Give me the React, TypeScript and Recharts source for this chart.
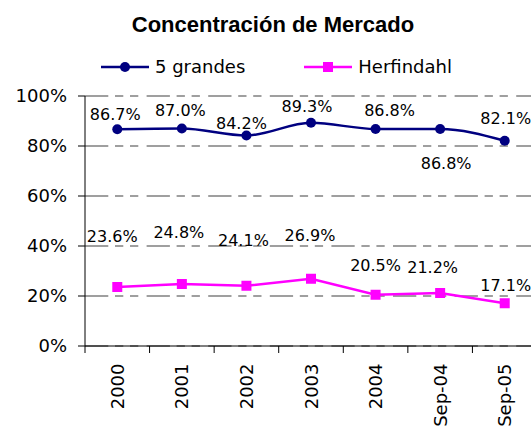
import { CartesianGrid, LabelList, Legend, Line, LineChart, XAxis, YAxis } from "recharts";

// values (percent)
const periods = ["2000", "2001", "2002", "2003", "2004", "Sep-04", "Sep-05"];
const cincoGrandes = [86.7, 87.0, 84.2, 89.3, 86.8, 86.8, 82.1];
const herfindahl = [23.6, 24.8, 24.1, 26.9, 20.5, 21.2, 17.1];
const yTicks = [0, 20, 40, 60, 80, 100];

const data = periods.map((periodo, i) => ({
  periodo,
  grandes: cincoGrandes[i],
  herf: herfindahl[i],
}));

// hand-placed data labels, as in the original sheet (dx, dy from the point)
const grandesLabelShift = [[-2, -15], [-1.5, -18], [-5, -12], [-4, -16], [14, -19], [6, 34], [1, -22.5]];
const herfLabelShift = [[-5, -51], [-3, -51.4], [-3, -45.5], [-1, -43.5], [0, -29.5], [-7.5, -26], [1, -18]];

const NAVY = "#000080";
const MAGENTA = "#FF00FF";
const FONT = "DejaVu Sans, Verdana, sans-serif";

const makeLabel = (shift: number[][]) => (props: any) => {
  const { x, y, index, value } = props;
  const [dx, dy] = shift[index] ?? [0, -15];
  return (
    <text
      x={x + dx}
      y={y + dy}
      textAnchor="middle"
      dominantBaseline="central"
      fontSize={16}
      fontFamily={FONT}
      fill="#000"
    >
      {`${Number(value).toFixed(1)}%`}
    </text>
  );
};

const SquareDot = (props: any) => {
  const { cx, cy, index } = props;
  return <rect key={`sq-${index}`} x={cx - 5} y={cy - 5} width={10} height={10} fill={MAGENTA} />;
};

// category label plus a tick mark on the left edge of its band (Excel style)
const PeriodTick = (props: any) => {
  const { x, y, payload } = props;
  const half = payload?.offset ?? 0;
  return (
    <g>
      <line x1={x - half} y1={y} x2={x - half} y2={y + 7} stroke="#000" />
      <text
        transform={`translate(${x},${y + 17.5}) rotate(-90)`}
        textAnchor="end"
        dominantBaseline="central"
        fontSize={18}
        fontFamily={FONT}
        fill="#000"
      >
        {payload.value}
      </text>
    </g>
  );
};

const LegendContent = (props: any) => {
  const { payload = [] } = props;
  return (
    <div style={{ display: "flex", alignItems: "center", paddingLeft: 101, fontFamily: FONT, fontSize: 18 }}>
      {payload.map((item: any, i: number) => (
        <div key={item.value} style={{ display: "flex", alignItems: "center", marginRight: 59 }}>
          <svg width={48} height={14} style={{ marginRight: 6 }}>
            <line x1={0} y1={7} x2={48} y2={7} stroke={item.color} strokeWidth={2.5} />
            {i === 0 ? (
              <circle cx={24} cy={7} r={5} fill={item.color} />
            ) : (
              <rect x={19} y={2} width={10} height={10} fill={item.color} />
            )}
          </svg>
          <span style={{ lineHeight: "22px" }}>{item.value}</span>
        </div>
      ))}
    </div>
  );
};

export default function App() {
  return (
    <div
      style={{
        position: "absolute",
        left: 0,
        top: 0,
        width: 531,
        height: 428,
        overflow: "hidden",
        background: "#fff",
      }}
    >
      <div
        style={{
          position: "absolute",
          left: 0,
          top: 14,
          width: 546,
          textAlign: "center",
          fontFamily: "Liberation Sans, Arial, sans-serif",
          fontWeight: "bold",
          fontSize: 22,
          lineHeight: "22px",
        }}
      >
        Concentración de Mercado
      </div>
      <LineChart width={540} height={428} data={data} margin={{ top: 96, right: 3, bottom: 0, left: 0 }}>
        <CartesianGrid
          vertical={false}
          stroke="#808080"
          strokeWidth={1.3}
          strokeDasharray="23.3 6.7 8.3 6.7 8.3 8.3"
        />
        <XAxis
          dataKey="periodo"
          scale="band"
          height={82}
          axisLine={{ stroke: "#000" }}
          tickLine={false}
          tickSize={0}
          tickMargin={0}
          interval={0}
          tick={<PeriodTick />}
        />
        <YAxis
          width={85}
          domain={[0, 100]}
          ticks={yTicks}
          interval={0}
          tickFormatter={(v) => `${v}%`}
          tickSize={7}
          tickMargin={11}
          tick={{ fontSize: 18, fontFamily: FONT, fill: "#000" }}
          axisLine={{ stroke: "#000" }}
          tickLine={{ stroke: "#000" }}
        />
        <Legend
          layout="horizontal"
          verticalAlign="middle"
          align="center"
          wrapperStyle={{ left: 0, top: 56, width: 540, height: 22 }}
          content={<LegendContent />}
        />
        <Line
          dataKey="grandes"
          name="5 grandes"
          stroke={NAVY}
          strokeWidth={2.5}
          type="monotone"
          dot={{ r: 5, fill: NAVY, stroke: NAVY, strokeWidth: 0 }}
          isAnimationActive={false}
        >
          <LabelList dataKey="grandes" content={makeLabel(grandesLabelShift)} />
        </Line>
        <Line
          dataKey="herf"
          name="Herfindahl"
          stroke={MAGENTA}
          strokeWidth={2.5}
          type="linear"
          dot={<SquareDot />}
          isAnimationActive={false}
        >
          <LabelList dataKey="herf" content={makeLabel(herfLabelShift)} />
        </Line>
      </LineChart>
    </div>
  );
}
